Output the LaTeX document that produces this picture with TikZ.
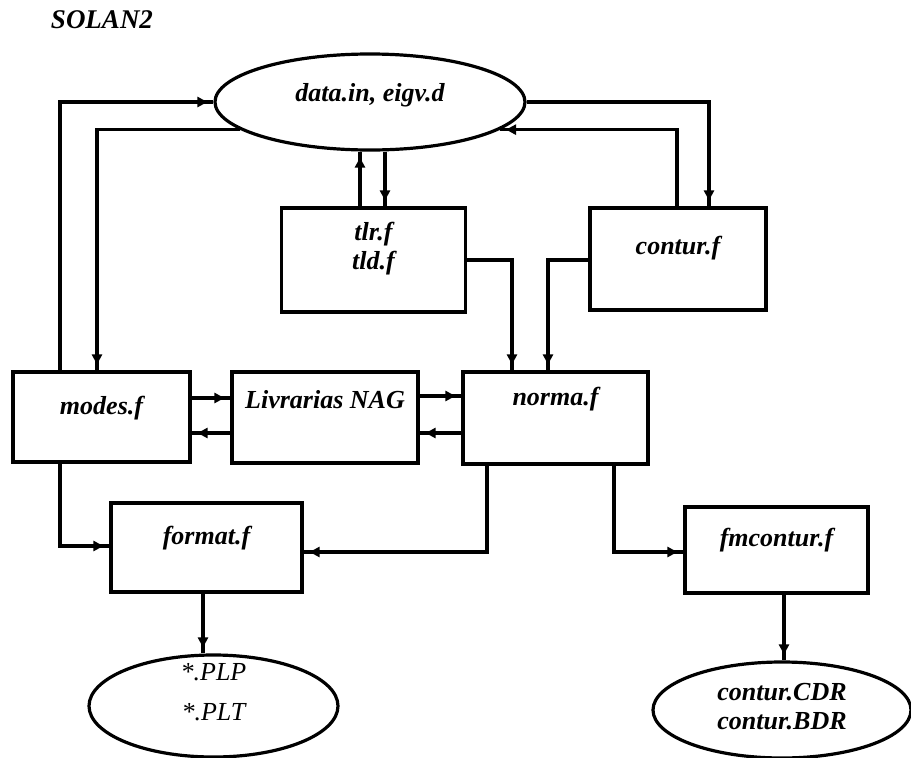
\documentclass[tikz,border=0pt]{standalone}
\usepackage{fontspec}
\setmainfont{Liberation Serif}
\usetikzlibrary{shapes.geometric,arrows.meta}
\begin{document}
\begin{tikzpicture}[x=1pt,y=-1pt,
  lbl/.style={font=\fontsize{26}{29}\selectfont\bfseries\itshape},
  box/.style={lbl, draw, line width=3.2pt, rectangle, inner sep=0pt, text height=20pt},
  oval/.style={lbl, draw, line width=3.2pt, ellipse, inner sep=0pt, text height=20pt},
  conn/.style={line width=3.2pt, postaction={draw, line width=3.2pt, -{Triangle[length=10pt,width=10pt]}, shorten >=6pt}}]
\useasboundingbox (0,0) rectangle (911,758);

% nodes
\node[lbl, font=\fontsize{27}{30}\selectfont\bfseries\itshape] (title) at (102,20) {SOLAN2};
\node[oval, minimum width=310pt, minimum height=96pt, text depth=22pt] (top) at (370,102) {data.in, eigv.d};
\node[box, minimum width=184pt, minimum height=104pt, text width=120pt, align=center, text depth=60pt] (tlr) at (373.5,260) {tlr.f\hspace*{12pt}\\tld.f\hspace*{12pt}};
\node[box, minimum width=176pt, minimum height=102pt, text depth=30pt] (contur) at (678,259) {contur.f};
\node[box, minimum width=177pt, minimum height=90pt, text depth=26pt] (modes) at (101.5,417) {modes.f};
\node[box, minimum width=186pt, minimum height=91pt, text depth=39pt] (nag) at (325,417.5) {Livrarias NAG};
\node[box, minimum width=185pt, minimum height=92pt, text depth=46pt] (norma) at (555.5,418) {norma.f};
\node[box, minimum width=191pt, minimum height=89pt, text depth=27pt] (format) at (206.5,547.5) {format.f};
\node[box, minimum width=183pt, minimum height=86pt, text depth=28pt] (fmc) at (776.5,550) {fmcontur.f};
\node[oval, font=\fontsize{26}{40}\selectfont\itshape, minimum width=249pt, minimum height=102pt, text height=0pt, text depth=52pt, text width=80pt, align=center] (plt) at (213.5,706) {{*}.PLP\\{*}.PLT};
\node[oval, minimum width=258pt, minimum height=96pt, text height=0pt, text depth=20pt, text width=140pt, align=center] (cdr) at (782,710) {contur.CDR\\contur.BDR};

% guide coordinates
\coordinate (xa) at (60,0);
\coordinate (xb) at (97,0);
\coordinate (xc) at (360,0);
\coordinate (xd) at (385,0);
\coordinate (xe) at (709,0);
\coordinate (xf) at (677,0);
\coordinate (xg) at (512,0);
\coordinate (xh) at (548,0);
\coordinate (xi) at (487,0);
\coordinate (xj) at (614,0);
\coordinate (xk) at (203,0);
\coordinate (xl) at (784,0);
\coordinate (yc) at (0,260);
\coordinate (yd) at (0,398);
\coordinate (ye) at (0,433);
\coordinate (yf) at (0,396);
\coordinate (yg) at (0,546);
\coordinate (yh) at (0,552);

% connectors
\draw[conn] (modes.north -| xa) |- (top.west);
\draw[conn] (top.192.5) -| (modes.north -| xb);
\draw[conn] (tlr.north -| xc) -- (top.south -| xc);
\draw[conn] (top.south -| xd) -- (tlr.north -| xd);
\draw[conn] (top.east) -| (contur.north -| xe);
\draw[conn] (contur.north -| xf) |- (top.348.7);
\draw[conn] (tlr.east |- yc) -| (norma.north -| xg);
\draw[conn] (contur.west |- yc) -| (norma.north -| xh);
\draw[conn] (modes.east |- yd) -- (nag.west |- yd);
\draw[conn] (nag.west |- ye) -- (modes.east |- ye);
\draw[conn] (nag.east |- yf) -- (norma.west |- yf);
\draw[conn] (norma.west |- ye) -- (nag.east |- ye);
\draw[conn] (modes.south -| xa) |- (format.west |- yg);
\draw[conn] (norma.south -| xi) |- (format.east |- yh);
\draw[conn] (norma.south -| xj) |- (fmc.west |- yh);
\draw[conn] (format.south -| xk) -- (plt.north -| xk);
\draw[conn] (fmc.south -| xl) -- (cdr.north -| xl);
\end{tikzpicture}
\end{document}
